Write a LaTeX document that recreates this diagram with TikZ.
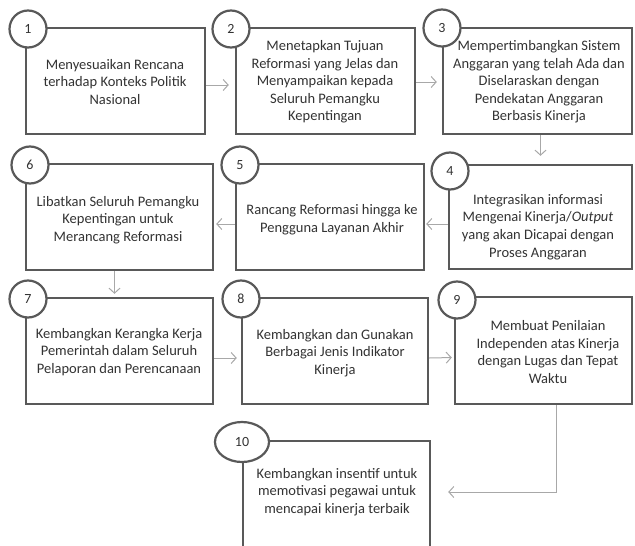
\documentclass[tikz,border=0pt]{standalone}
\usepackage{fontspec}
\setmainfont{Carlito}
\usetikzlibrary{arrows.meta,shapes.geometric}
\definecolor{boxline}{HTML}{595959}
\definecolor{flowline}{HTML}{A8A8A8}
\definecolor{ink}{HTML}{333333}
\begin{document}
\begin{tikzpicture}[x=1pt,y=-1pt,
  box/.style={draw=boxline, line width=2.4pt, fill=white, rectangle, inner sep=0pt},
  txt/.style={align=center, text=ink, inner sep=0pt,
    font=\fontsize{14.5pt}{17.6pt}\selectfont},
  badge/.style={draw=boxline, line width=2.2pt, fill=white, circle,
    minimum size=37pt, inner sep=0pt, text=ink,
    font=\fontsize{14pt}{16pt}\selectfont},
  oval/.style={badge, ellipse, minimum width=54pt, minimum height=40pt},
  flow/.style={draw=flowline, line width=1pt,
    -{Straight Barb[length=5pt,width=11pt]}}]
\useasboundingbox (0,0) rectangle (635,546);
\begin{scope}
\clip (0,0) rectangle (635,546);

% step boxes
\node[box, minimum width=179pt, minimum height=106pt] (b1) at (115.5,81) {};
\node[box, minimum width=179pt, minimum height=106pt] (b2) at (325.5,81) {};
\node[box, minimum width=189pt, minimum height=106pt] (b3) at (537.5,81) {};
\node[box, minimum width=183pt, minimum height=104pt] (b4) at (540.5,217) {};
\node[box, minimum width=188pt, minimum height=106pt] (b5) at (330,217) {};
\node[box, minimum width=187pt, minimum height=106pt] (b6) at (119.5,217) {};
\node[box, minimum width=187pt, minimum height=106pt] (b7) at (119.5,351) {};
\node[box, minimum width=186pt, minimum height=106pt] (b8) at (335,351) {};
\node[box, minimum width=177pt, minimum height=107pt] (b9) at (543.5,350.5) {};
\node[box, minimum width=187pt, minimum height=124pt] (b10) at (336.5,503) {};

% step texts
\node[txt] (t1) at (115,82) {Menyesuaikan Rencana\\terhadap Konteks Politik\\Nasional};
\node[txt] (t2) at (325,82) {Menetapkan Tujuan\\Reformasi yang Jelas dan\\Menyampaikan kepada\\Seluruh Pemangku\\Kepentingan};
\node[txt] (t3) at (539,82) {Mempertimbangkan Sistem\\Anggaran yang telah Ada dan\\Diselaraskan dengan\\Pendekatan Anggaran\\Berbasis Kinerja};
\node[txt] (t4) at (538,227) {Integrasikan informasi\\Mengenai Kinerja/\textit{Output}\\yang akan Dicapai dengan\\Proses Anggaran};
\node[txt] (t5) at (332,220) {Rancang Reformasi hingga ke\\Pengguna Layanan Akhir};
\node[txt] (t6) at (118,220) {Libatkan Seluruh Pemangku\\Kepentingan untuk\\Merancang Reformasi};
\node[txt] (t7) at (119,352) {Kembangkan Kerangka Kerja\\Pemerintah dalam Seluruh\\Pelaporan dan Perencanaan};
\node[txt] (t8) at (335,353) {Kembangkan dan Gunakan\\Berbagai Jenis Indikator\\Kinerja};
\node[txt] (t9) at (548,352) {Membuat Penilaian\\Independen atas Kinerja\\dengan Lugas dan Tepat\\Waktu};
\node[txt] (t10) at (337,492) {Kembangkan insentif untuk\\memotivasi pegawai untuk\\mencapai kinerja terbaik};

% number badges
\node[badge] (c1) at (28,29) {1};
\node[badge] (c2) at (231,29) {2};
\node[badge] (c3) at (442,28) {3};
\node[badge] (c4) at (450,171) {4};
\node[badge] (c5) at (240,165) {5};
\node[badge] (c6) at (30,165) {6};
\node[badge] (c7) at (28,299) {7};
\node[badge] (c8) at (241,299) {8};
\node[badge] (c9) at (457,300) {9};
\node[oval] (c10) at (242,442) {10};

% flow connectors
\draw[flow, shorten >=6pt] ([yshift=-4pt]b1.east) -- ([yshift=-4pt]b2.west);
\draw[flow, shorten >=5pt] ([yshift=-1pt]b2.east) -- ([yshift=-1pt]b3.west);
\draw[flow, shorten >=8pt] (b3.south -| b4.north) -- (b4.north);
\draw[flow, shorten >=1pt] ([yshift=-7pt]b4.west) -- ([yshift=-7pt]b5.east);
\draw[flow, shorten >=2pt] ([yshift=-7pt]b5.west) -- ([yshift=-7pt]b6.east);
\draw[flow, shorten >=3pt] ([xshift=-5pt]b6.south) -- ([xshift=-5pt]b6.south |- b7.north);
\draw[flow, shorten >=4pt] ([yshift=-7pt]b7.east) -- ([yshift=-7pt]b8.west);
\draw[flow, shorten >=2pt] ([yshift=-7pt]b8.east) -- ([yshift=-7pt]b9.west);
\draw[flow, shorten >=17pt] ([xshift=12.5pt]b9.south) |- ([yshift=11pt]b10.east);
\end{scope}
\end{tikzpicture}
\end{document}
